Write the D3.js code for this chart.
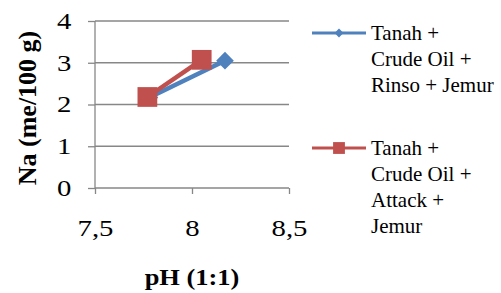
<!DOCTYPE html>
<html>
<head>
<meta charset="utf-8">
<script src="https://cdn.jsdelivr.net/npm/d3@7"></script>
<style>
  body { margin: 0; background: #fff; }
  svg text { font-family: "Liberation Serif", "Times New Roman", serif; fill: #000; }
</style>
</head>
<body>
<div id="chart"></div>
<script>
// data
const seriesNames = [
  ['Tanah +', 'Crude Oil +', 'Rinso + Jemur'],
  ['Tanah +', 'Crude Oil +', 'Attack +', 'Jemur'],
];
const rinsoPH = [7.78, 8.17];
const rinsoNa = [2.17, 3.05];
const attackPH = [7.77, 8.05];
const attackNa = [2.18, 3.07];
const xTicks = [7.5, 8, 8.5];
const yTicks = [0, 1, 2, 3, 4];

const COLOR = ['#4F81BD', '#C0504D'];
const GRID = '#878787';

const width = 501;
const height = 293;
const margin = { top: 21, right: 212, bottom: 105, left: 95 };

const svg = d3.select('#chart')
  .append('svg')
  .attr('width', width)
  .attr('height', height);

const x = d3.scaleLinear()
  .domain([7.5, 8.5])
  .range([margin.left, width - margin.right]);

const y = d3.scaleLinear()
  .domain([0, 4])
  .range([height - margin.bottom, margin.top]);

const fmt = (d) => String(d).replace('.', ',');

// gridlines
svg.append('g')
  .selectAll('line')
  .data(yTicks.filter((d) => d > 0))
  .join('line')
  .attr('x1', x(7.5))
  .attr('x2', x(8.5))
  .attr('y1', (d) => y(d))
  .attr('y2', (d) => y(d))
  .attr('stroke', GRID)
  .attr('stroke-width', 1.3);

// y axis
svg.append('g')
  .attr('transform', `translate(${x(7.5)},0)`)
  .call(d3.axisLeft(y).tickValues(yTicks).tickSize(7).tickFormat(fmt))
  .call((g) => g.select('.domain').attr('stroke', GRID).attr('stroke-width', 1.3).attr('d', `M0,${y(4)}V${y(0)}`))
  .call((g) => g.selectAll('.tick line').attr('stroke', GRID).attr('stroke-width', 1.3))
  .call((g) => g.selectAll('.tick text')
    .attr('x', -19)
    .attr('transform', 'scale(1.25,1)')
    .attr('font-size', 23)
    .attr('font-family', '"Liberation Serif", serif'));

// x axis
svg.append('g')
  .attr('transform', `translate(0,${y(0)})`)
  .call(d3.axisBottom(x).tickValues(xTicks).tickSize(6).tickFormat(fmt))
  .call((g) => g.select('.domain').attr('stroke', GRID).attr('stroke-width', 1.3).attr('d', `M${x(7.5)},0H${x(8.5)}`))
  .call((g) => g.selectAll('.tick line').attr('stroke', GRID).attr('stroke-width', 1.3))
  .call((g) => g.selectAll('.tick text')
    .attr('y', 32)
    .attr('transform', 'scale(1.25,1)')
    .attr('font-size', 23)
    .attr('font-family', '"Liberation Serif", serif'));

// axis titles
svg.append('text')
  .attr('transform', `translate(${x(8)},285) scale(1.15,1)`)
  .attr('text-anchor', 'middle')
  .attr('font-size', 23)
  .attr('font-weight', 'bold')
  .text('pH (1:1)');

svg.append('text')
  .attr('transform', 'translate(36,108) rotate(-90)')
  .attr('text-anchor', 'middle')
  .attr('font-size', 26)
  .attr('font-weight', 'bold')
  .text('Na (me/100 g)');

// series
const series = [
  { pts: rinsoPH.map((d, i) => [d, rinsoNa[i]]), shape: d3.symbolDiamond2, size: 200, legendSize: 50 },
  { pts: attackPH.map((d, i) => [d, attackNa[i]]), shape: d3.symbolSquare, size: 390, legendSize: 140 },
];

const line = d3.line().x((d) => x(d[0])).y((d) => y(d[1]));

series.forEach((s, i) => {
  const g = svg.append('g');
  g.append('path')
    .attr('d', line(s.pts))
    .attr('fill', 'none')
    .attr('stroke', COLOR[i])
    .attr('stroke-width', 4.5);
  g.selectAll('path.m')
    .data(s.pts)
    .join('path')
    .attr('class', 'm')
    .attr('transform', (d) => `translate(${x(d[0])},${y(d[1])})`)
    .attr('d', d3.symbol(s.shape, s.size))
    .attr('fill', COLOR[i]);
});

// legend
const legendY = [33, 148];
const legend = svg.append('g');
seriesNames.forEach((lines, i) => {
  const g = legend.append('g').attr('transform', `translate(0,${legendY[i]})`);
  g.append('line')
    .attr('x1', 312).attr('x2', 366)
    .attr('stroke', COLOR[i])
    .attr('stroke-width', 3);
  g.append('path')
    .attr('transform', 'translate(339,0)')
    .attr('d', d3.symbol(series[i].shape, series[i].legendSize))
    .attr('fill', COLOR[i]);
  g.append('text')
    .attr('x', 371)
    .attr('y', 7)
    .attr('font-size', 21)
    .selectAll('tspan')
    .data(lines)
    .join('tspan')
    .attr('x', 371)
    .attr('dy', (d, j) => (j === 0 ? 0 : 26))
    .text((d) => d);
});
</script>
</body>
</html>
